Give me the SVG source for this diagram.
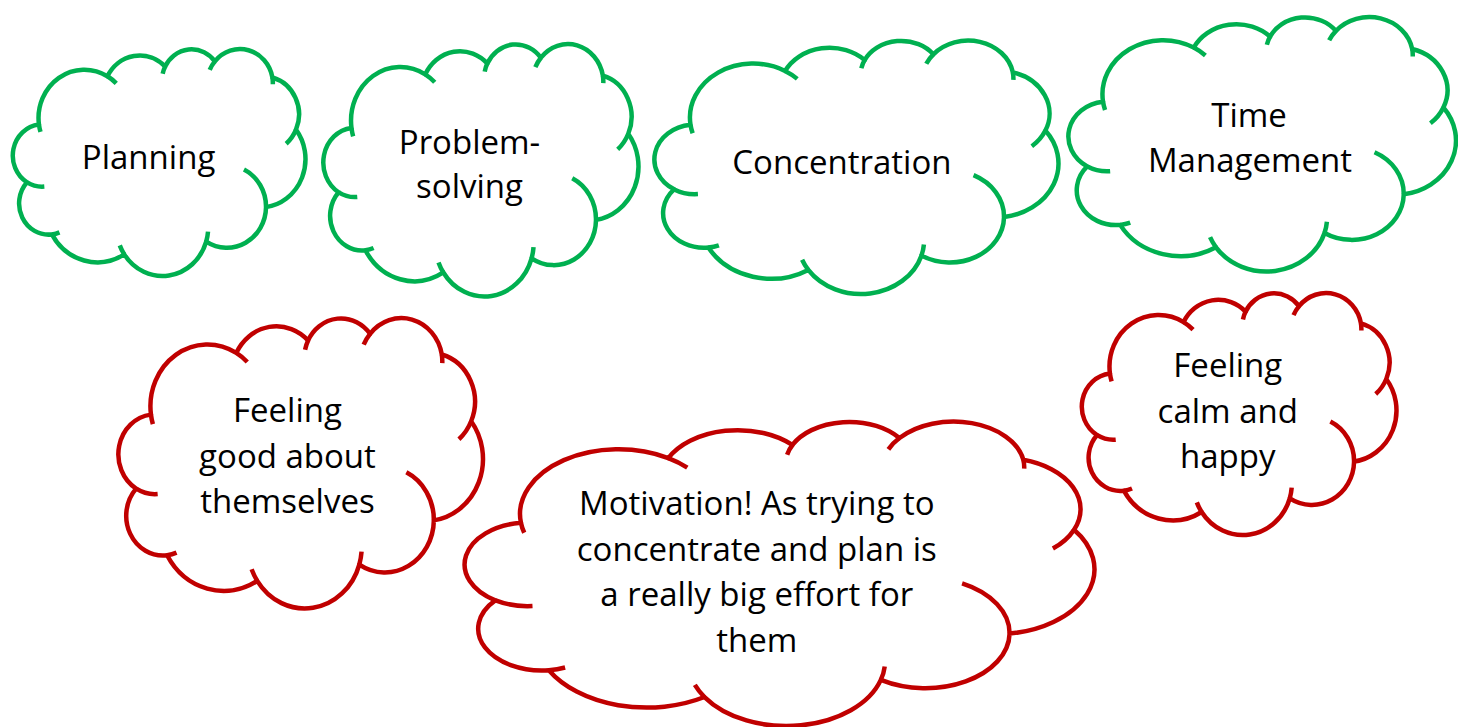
<svg xmlns="http://www.w3.org/2000/svg" xmlns:xlink="http://www.w3.org/1999/xlink" width="1458" height="727" viewBox="0 0 1458 727">
  <style>
    .shape { fill: #ffffff; stroke-width: 4.5; stroke-linejoin: round; }
    .arcs { fill: none; stroke-width: 4.5; }
    .green { stroke: #00B050; }
    .red { stroke: #C00000; }
    .lbl { font-family: "Open Sans", "Noto Sans", sans-serif; font-size: 33px; fill: #000000; text-anchor: middle; }
  </style>
  <defs>
    <!-- cloud outline in a 43200 x 43200 unit box -->
    <path id="cloudBody" class="shape" vector-effect="non-scaling-stroke"
      d="M3900,14370 A6753,9190 0 0 1 14000,5192 A5333,7267 0 0 1 22500,3330 A4365,5945 0 0 1 29835,2350 A4857,6595 0 0 1 38324,5426 A5333,7273 0 0 1 41798,15354 A6775,9220 0 0 1 37382,30093 A5785,7867 0 0 1 28560,36661 A6752,9215 0 0 1 16478,39090 A7720,10543 0 0 1 5811,35288 A4360,5918 0 0 1 2144,25370 A4345,5945 0 0 1 3900,14370 Z"/>
    <!-- inner bump arcs, stroke only -->
    <path id="cloudArcs" class="arcs" vector-effect="non-scaling-stroke"
      d="M4693,26177 A4345,5945 0 0 1 2160,25380 M6928,34899 A4360,5918 0 0 1 5815,35285 M16478,39090 A6752,9215 0 0 1 15817,37371 M28827,34751 A6752,9215 0 0 1 28560,36661 M34129,22954 A5785,7867 0 0 1 37382,30093 M41798,15354 A5333,7273 0 0 1 40350,18030 M38324,5426 A4857,6595 0 0 1 38382,6700 M29078,3952 A4857,6595 0 0 1 29835,2350 M22141,4720 A4365,5945 0 0 1 22540,3225 M14000,5192 A6753,9190 0 0 1 15300,6541 M4127,15789 A6753,9190 0 0 1 3900,14370"/>
  </defs>

  <rect width="1458" height="727" fill="#ffffff"/>

  <g id="planning">
    <g class="green" transform="translate(12.5,49) scale(0.0067824,0.0052546)">
      <use xlink:href="#cloudBody"/><use xlink:href="#cloudArcs"/>
    </g>
    <text class="lbl" x="148.6" y="168.5">Planning</text>
  </g>

  <g id="problem-solving">
    <g class="green" transform="translate(323,44) scale(0.0073032,0.0058449)">
      <use xlink:href="#cloudBody"/><use xlink:href="#cloudArcs"/>
    </g>
    <text class="lbl" x="469.5" y="153.5">Problem-</text>
    <text class="lbl" x="469.5" y="198">solving</text>
  </g>

  <g id="concentration">
    <g class="green" transform="translate(654,40.5) scale(0.0093634,0.0058681)">
      <use xlink:href="#cloudBody"/><use xlink:href="#cloudArcs"/>
    </g>
    <text class="lbl" x="841.9" y="173.5">Concentration</text>
  </g>

  <g id="time-management">
    <g class="green" transform="translate(1068,17) scale(0.0089815,0.0058912)">
      <use xlink:href="#cloudBody"/><use xlink:href="#cloudArcs"/>
    </g>
    <text class="lbl" x="1249" y="127">Time</text>
    <text class="lbl" x="1250" y="172">Management</text>
  </g>

  <g id="feeling-good">
    <g class="red" transform="translate(118,318) scale(0.0084491,0.0067245)">
      <use xlink:href="#cloudBody"/><use xlink:href="#cloudArcs"/>
    </g>
    <text class="lbl" x="287.5" y="422">Feeling</text>
    <text class="lbl" x="287.5" y="467.5">good about</text>
    <text class="lbl" x="287.5" y="513">themselves</text>
  </g>

  <g id="motivation">
    <g class="red" transform="translate(464,421.5) scale(0.0145949,0.0070486)">
      <use xlink:href="#cloudBody"/><use xlink:href="#cloudArcs"/>
    </g>
    <text class="lbl" x="756.8" y="515">Motivation! As trying to</text>
    <text class="lbl" x="756.8" y="560.5">concentrate and plan is</text>
    <text class="lbl" x="756.8" y="606">a really big effort for</text>
    <text class="lbl" x="756.8" y="651.5">them</text>
  </g>

  <g id="feeling-calm">
    <g class="red" transform="translate(1081.5,293) scale(0.0072917,0.0056019)">
      <use xlink:href="#cloudBody"/><use xlink:href="#cloudArcs"/>
    </g>
    <text class="lbl" x="1227.8" y="377">Feeling</text>
    <text class="lbl" x="1227.8" y="422.5">calm and</text>
    <text class="lbl" x="1227.8" y="468">happy</text>
  </g>
</svg>
